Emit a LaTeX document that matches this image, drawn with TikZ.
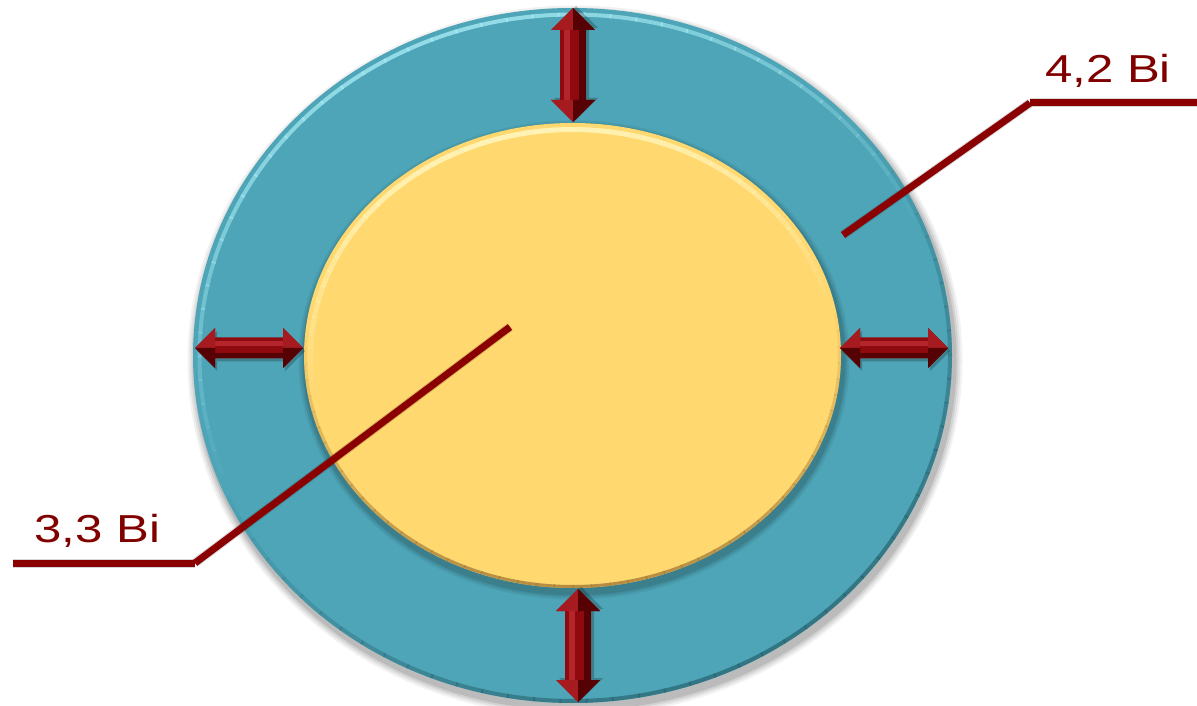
\documentclass[tikz,border=0pt]{standalone}
\usepackage{fontspec}
\setmainfont{Liberation Sans}
\definecolor{teal1}{HTML}{4DA5B7}
\definecolor{tealhi}{HTML}{A5EAF4}
\definecolor{tealdk}{HTML}{2A6572}
\definecolor{yel}{HTML}{FFD870}
\definecolor{yelhi}{HTML}{FFF4B8}
\definecolor{yeldk}{HTML}{A9803A}
\definecolor{lblred}{HTML}{800000}
\definecolor{linered}{HTML}{8B0000}
\definecolor{arbase}{HTML}{8E0A0E}
\definecolor{arlight}{HTML}{B4262B}
\definecolor{ardark}{HTML}{560205}
\tikzset{
  lbl/.style={font=\fontsize{39}{42}\selectfont, text=lblred, xscale=1.26, inner sep=0pt, anchor=base},
  leader/.style={draw=linered, line width=7pt},
  leadershadow/.style={draw=black, opacity=0.16, line width=9pt},
  pics/dblarrow/.style n args={4}{code={
    % #1 half length, #2 shaft half width, #3 head half width, #4 head length
    \fill[black, opacity=0.22, shift={(2,-3)}] (-#1,0) -- (-#1+#4,#3) -- (-#1+#4,#2) -- (#1-#4,#2) -- (#1-#4,#3) -- (#1,0) -- (#1-#4,-#3) -- (#1-#4,-#2) -- (-#1+#4,-#2) -- (-#1+#4,-#3) -- cycle;
    \fill[arbase] (-#1,0) -- (-#1+#4,#3) -- (-#1+#4,#2) -- (#1-#4,#2) -- (#1-#4,#3) -- (#1,0) -- (#1-#4,-#3) -- (#1-#4,-#2) -- (-#1+#4,-#2) -- (-#1+#4,-#3) -- cycle;
    \fill[arlight] (-#1+#4,0.2*#2) rectangle (#1-#4,0.7*#2);
    \fill[ardark] (-#1+#4,-0.45*#2) rectangle (#1-#4,-#2);
    \fill[arlight!60!arbase] (#1,0) -- (#1-#4,#3) -- (#1-#4,0) -- cycle;
    \fill[ardark] (#1,0) -- (#1-#4,-#3) -- (#1-#4,0) -- cycle;
    \fill[arlight!60!arbase] (-#1,0) -- (-#1+#4,#3) -- (-#1+#4,0) -- cycle;
    \fill[ardark] (-#1,0) -- (-#1+#4,-#3) -- (-#1+#4,0) -- cycle;
  }}
}
\begin{document}
\begin{tikzpicture}[x=1pt,y=1pt]
\useasboundingbox (0,0) rectangle (1197,705);
\fill[white] (0,0) rectangle (1197,705);
% outer ring shadow
\foreach \d/\o in {8/0.05,6/0.06,4/0.08,2/0.1}{
  \fill[black, opacity=\o] (575,344) ellipse [x radius=379.5+\d, y radius=347.5+\d];
}
% outer ellipse
\fill[teal1] (572.5,349.5) ellipse [x radius=379.5, y radius=347.5];
% outer dark rim (bottom right), faded ends
\foreach \a in {-160,-156,...,36}{
  \pgfmathsetmacro\op{0.75*sin((\a+160)/200*180)}
  \draw[tealdk, line width=4pt, opacity=\op] (572.5,349.5) ++(\a:377.5 and 345.5) arc[start angle=\a, end angle=\a+4.3, x radius=377.5, y radius=345.5];
}
% outer highlight (top), faded ends
\foreach \a in {20,24,...,196}{
  \pgfmathsetmacro\op{0.8*sin((\a-20)/180*180)}
  \draw[tealhi, line width=4pt, opacity=\op] (572.5,349.5) ++(\a:373 and 341) arc[start angle=\a, end angle=\a+4.3, x radius=373, y radius=341];
}
% inner ellipse shadow on teal
\foreach \d/\o in {7/0.06,5/0.08,3/0.1}{
  \fill[black, opacity=\o] (574,345) ellipse [x radius=268.5+\d, y radius=232.5+\d];
}
% inner ellipse
\fill[yel] (572.5,349.5) ellipse [x radius=268.5, y radius=232.5];
\foreach \a in {-190,-186,...,10}{
  \pgfmathsetmacro\op{0.85*sin((\a+190)/200*180)}
  \draw[yeldk, line width=3pt, opacity=\op] (572.5,349.5) ++(\a:267 and 231) arc[start angle=\a, end angle=\a+4.3, x radius=267, y radius=231];
}
\foreach \a in {10,14,...,190}{
  \pgfmathsetmacro\op{0.95*sin((\a-10)/180*180)}
  \draw[yelhi, line width=5pt, opacity=\op] (572.5,349.5) ++(\a:262 and 226) arc[start angle=\a, end angle=\a+4.3, x radius=262, y radius=226];
}
% double arrows
\pic[rotate=90] (atop) at (573,640) {dblarrow={57}{13}{22}{22}};
\pic[rotate=90] (abot) at (578,59.5) {dblarrow={56.5}{13}{22}{22}};
\pic (aleft) at (249,357) {dblarrow={54}{10.5}{20}{20}};
\pic (aright) at (894,357) {dblarrow={54}{10.5}{20}{20}};
% labels
\node[lbl] (l42) at (1108,622) {4,2 Bi};
\node[lbl] (l33) at (97.5,163) {3,3 Bi};
% leader lines
\coordinate (p42a) at (843,470);
\coordinate (p42b) at (1030,602);
\coordinate (p42c) at (1197,602);
\coordinate (p33a) at (510,378);
\coordinate (p33b) at (195,142);
\coordinate (p33c) at (13,142);
\begin{scope}[shift={(3,-6)}]
\draw[leadershadow] (p42a) -- (p42b);
\draw[leadershadow] (p42b) -- (p42c);
\draw[leadershadow] (p33a) -- (p33b);
\draw[leadershadow] (p33b) -- (p33c);
\end{scope}
\draw[leader] (p42a) -- (p42b);
\draw[leader] (p42b) -- (p42c);
\draw[leader] (p33a) -- (p33b);
\draw[leader] (p33b) -- (p33c);
\end{tikzpicture}
\end{document}
